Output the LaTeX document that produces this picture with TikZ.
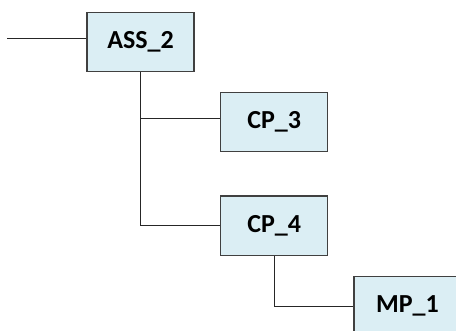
\documentclass[tikz,border=0pt]{standalone}
\usepackage{fontspec}
\setmainfont{Carlito}
\definecolor{boxfill}{HTML}{DBEEF4}
\definecolor{boxline}{HTML}{404040}
\begin{document}
\begin{tikzpicture}[x=0.75pt,y=-0.75pt,
  part/.style={draw=boxline,line width=0.9pt,fill=boxfill,minimum width=80.25pt,minimum height=44.6pt,inner sep=0pt,font=\bfseries\fontsize{19.5}{21}\selectfont},
  link/.style={draw=black!85,line width=0.75pt}]
\useasboundingbox (0,0) rectangle (456,331);
\clip (0,0) rectangle (456,331);
\node[part] (ass2) at (140.5,42) {ASS\_2};
\node[part] (cp3) at (274.2,122) {CP\_3};
\node[part] (cp4) at (274.2,225.7) {CP\_4};
\node[part] (mp1) at (407.5,306) {MP\_1};
\coordinate (in) at (7,38.5);
\draw[link] (in) -- (in -| ass2.west);
\draw[link] (ass2.south) |- ([yshift=2.6pt]cp3.west);
\draw[link] (ass2.south) |- (cp4.west);
\draw[link] (cp4.south) |- (mp1.west);
\end{tikzpicture}
\end{document}
